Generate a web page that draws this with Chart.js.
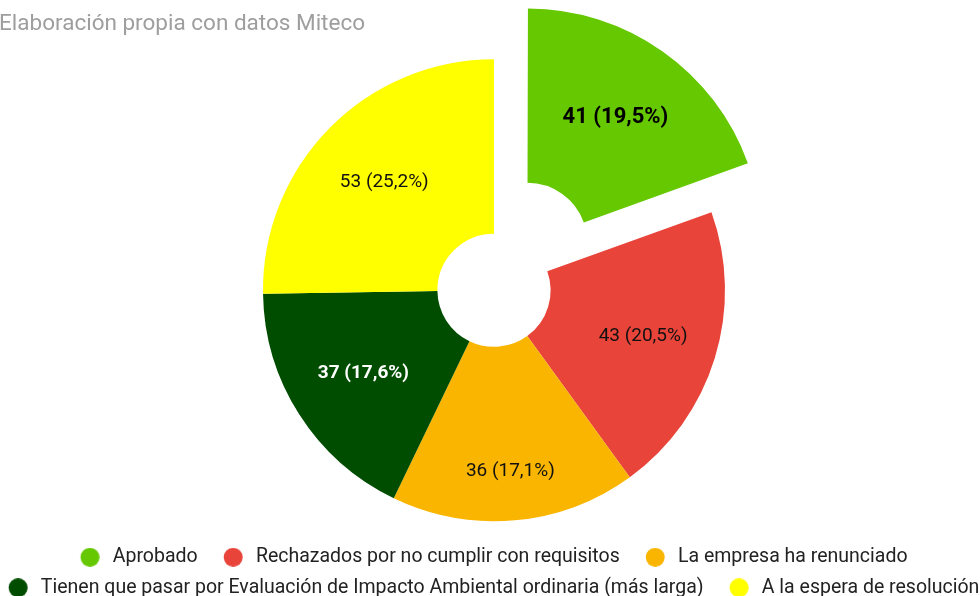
<!DOCTYPE html>
<html>
<head>
<meta charset="utf-8">
<script src="https://cdn.jsdelivr.net/npm/chart.js@4/dist/chart.umd.min.js"></script>
<style>
  html, body { margin: 0; padding: 0; background: #fff; }
  #wrap { width: 980px; height: 596px; position: relative; }
</style>
</head>
<body>
<div id="wrap"><canvas id="chart"></canvas></div>
<script>
// datos
const categories = [
    'Aprobado',
    'Rechazados por no cumplir con requisitos',
    'La empresa ha renunciado',
    'Tienen que pasar por Evaluación de Impacto Ambiental ordinaria (más larga)',
    'A la espera de resolución'
];
const values = [41, 43, 36, 37, 53];
const colors = ['#66c800', '#e8443a', '#f9b500', '#004d00', '#ffff00'];
const titleText = 'Elaboración propia con datos Miteco';

// estilo de las etiquetas dentro de cada sector
const labelColors = ['#000', '#111', '#111', '#fff', '#111'];
const labelFonts = ['bold 22px Roboto', '19px Roboto', '19px Roboto', 'bold 19px Roboto', '19px Roboto'];
const labelDistance = [153, 156, 182, 155, 154];

const total = values.reduce((a, b) => a + b, 0);

// hueco delante de cada punto de la leyenda
const DOT_GAP = 15;

// puntos de la leyenda: circulo desplazado a la derecha para dejar hueco entre elementos
function legendDot(color) {
    const c = document.createElement('canvas');
    c.width = 31;
    c.height = 19;
    const g = c.getContext('2d');
    g.fillStyle = color;
    g.beginPath();
    g.arc(21.25, 9.5, 9.5, 0, Math.PI * 2);
    g.fill();
    return c;
}
const legendDots = colors.map(legendDot);

const sliceLabels = {
    id: 'sliceLabels',
    afterDatasetsDraw(chart) {
        const ctx = chart.ctx;
        const meta = chart.getDatasetMeta(0);
        ctx.save();
        ctx.textAlign = 'center';
        ctx.textBaseline = 'middle';
        meta.data.forEach((arc, i) => {
            const p = arc.getProps(['x', 'y', 'startAngle', 'endAngle']);
            const off = (arc.options.offset || 0) / 4; // chart.js v4 dibuja offset/4
            const mid = (p.startAngle + p.endAngle) / 2;
            const r = labelDistance[i] + off;
            const pct = (values[i] / total * 100).toFixed(1).replace('.', ',');
            ctx.font = labelFonts[i];
            ctx.fillStyle = labelColors[i];
            ctx.fillText(`${values[i]} (${pct}%)`, p.x + Math.cos(mid) * r, p.y + Math.sin(mid) * r);
        });
        ctx.restore();
    }
};

// titulo pegado al borde izquierdo
const sourceTitle = {
    id: 'sourceTitle',
    afterDraw(chart) {
        const ctx = chart.ctx;
        ctx.save();
        ctx.font = '22.5px Roboto';
        ctx.fillStyle = '#9e9e9e';
        ctx.textAlign = 'left';
        ctx.textBaseline = 'alphabetic';
        ctx.fillText(titleText, -1, 29.5);
        ctx.restore();
    }
};

// centra las filas de la leyenda bajo el donut
const legendNudge = {
    id: 'legendNudge',
    afterLayout(chart) {
        const ca = chart.chartArea;
        const lg = chart.legend;
        const shift = ((ca.left + ca.right) - (lg.left + lg.right) - DOT_GAP) / 2;
        lg.left += shift;
        lg.right += shift;
    }
};

const baseLabels = Chart.overrides.doughnut.plugins.legend.labels.generateLabels;

new Chart(document.getElementById('chart'), {
    type: 'doughnut',
    data: {
        labels: categories,
        datasets: [{
            data: values,
            backgroundColor: colors,
            borderWidth: 0,
            offset: [232, 0, 0, 0, 0],
            hoverOffset: 0
        }]
    },
    options: {
        responsive: true,
        maintainAspectRatio: false,
        animation: false,
        cutout: '24.5%',
        radius: 231,
        layout: { padding: { top: 44, left: 8, right: -48, bottom: -11.5 } },
        plugins: {
            title: { display: false },
            legend: {
                position: 'bottom',
                labels: {
                    usePointStyle: true,
                    pointStyleWidth: 37.5,
                    boxHeight: 19.5,
                    padding: 11,
                    color: '#222',
                    font: { family: 'Roboto', size: 19.5 },
                    generateLabels(chart) {
                        const items = baseLabels(chart);
                        items.forEach((it, i) => { it.pointStyle = legendDots[i]; });
                        return items;
                    }
                }
            },
            tooltip: { enabled: false }
        }
    },
    plugins: [sliceLabels, sourceTitle, legendNudge]
});
</script>
</body>
</html>
